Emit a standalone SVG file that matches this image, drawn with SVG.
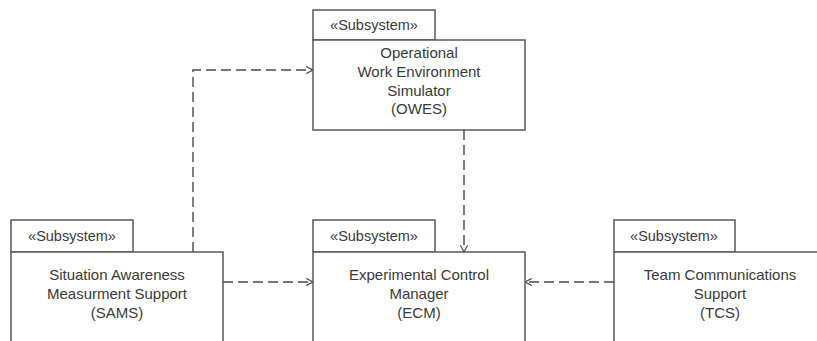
<svg xmlns="http://www.w3.org/2000/svg" width="817" height="341" viewBox="0 0 817 341">
  <style>
    .frame { fill: #ffffff; stroke: #5a5a5a; stroke-width: 1.5; }
    .stereo { font-family: "Liberation Sans", "DejaVu Sans", sans-serif; font-size: 14.5px; fill: #3a3a3a; text-anchor: middle; }
    .label { font-family: "Liberation Sans", "DejaVu Sans", sans-serif; font-size: 15px; fill: #3a3a3a; text-anchor: middle; }
    .dep { fill: none; stroke: #4a4a4a; stroke-width: 1.4; stroke-dasharray: 10 5; marker-end: url(#open); }
  </style>
  <defs>
    <marker id="open" viewBox="0 0 10 10" refX="9.5" refY="5" markerWidth="8" markerHeight="8" markerUnits="userSpaceOnUse" orient="auto">
      <path d="M1,0.5 L9.5,5 L1,9.5" fill="none" stroke="#4a4a4a" stroke-width="1.4"/>
    </marker>
  </defs>
  <rect width="817" height="341" fill="#ffffff"/>

  <g id="connectors">
    <path class="dep" d="M193,252 V70 H313"/>
    <path class="dep" d="M464,130 V252"/>
    <path class="dep" d="M223,282 H313"/>
    <path class="dep" d="M614,282 H525"/>
  </g>

  <g id="owes">
    <rect class="frame" x="313" y="10" width="122" height="30"/>
    <rect class="frame" x="313" y="40" width="212" height="90"/>
    <text class="stereo" x="374" y="30">«Subsystem»</text>
    <text class="label" x="419" y="58">Operational</text>
    <text class="label" x="419" y="77">Work Environment</text>
    <text class="label" x="419" y="96">Simulator</text>
    <text class="label" x="419" y="114">(OWES)</text>
  </g>

  <g id="sams">
    <rect class="frame" x="11" y="220" width="122" height="32"/>
    <rect class="frame" x="11" y="252" width="212" height="100"/>
    <text class="stereo" x="72" y="241">«Subsystem»</text>
    <text class="label" x="117" y="280">Situation Awareness</text>
    <text class="label" x="117" y="299">Measurment Support</text>
    <text class="label" x="117" y="318">(SAMS)</text>
  </g>

  <g id="ecm">
    <rect class="frame" x="313" y="220" width="122" height="32"/>
    <rect class="frame" x="313" y="252" width="212" height="100"/>
    <text class="stereo" x="374" y="241">«Subsystem»</text>
    <text class="label" x="419" y="280">Experimental Control</text>
    <text class="label" x="419" y="299">Manager</text>
    <text class="label" x="419" y="318">(ECM)</text>
  </g>

  <g id="tcs">
    <rect class="frame" x="614" y="220" width="121" height="32"/>
    <rect class="frame" x="614" y="252" width="212" height="100"/>
    <text class="stereo" x="674" y="241">«Subsystem»</text>
    <text class="label" x="720" y="280">Team Communications</text>
    <text class="label" x="720" y="299">Support</text>
    <text class="label" x="720" y="318">(TCS)</text>
  </g>
</svg>
